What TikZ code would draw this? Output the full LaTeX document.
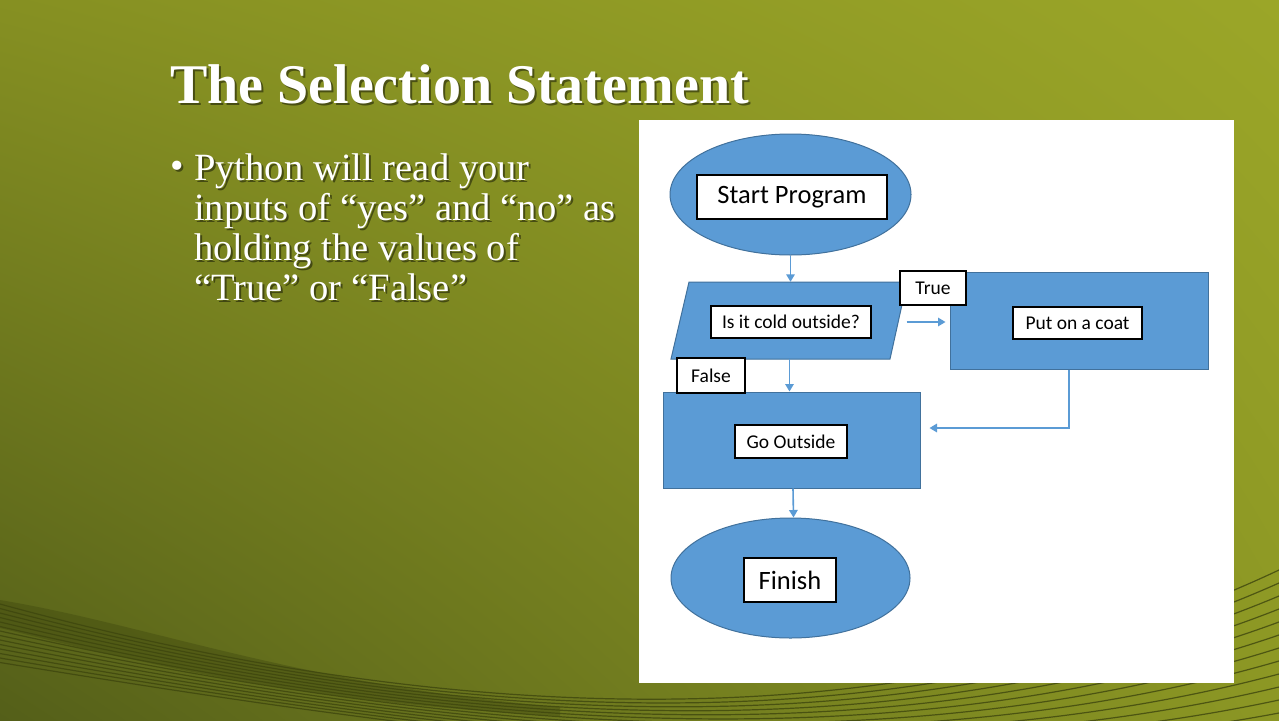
\documentclass[tikz,border=0pt]{standalone}
\usepackage{fontspec}
\setmainfont{Liberation Serif}
\newfontfamily\calibf{Carlito}
\usetikzlibrary{arrows.meta,shadings,shapes.geometric}
\definecolor{shapeblue}{HTML}{5B9BD5}
\definecolor{shapeedge}{HTML}{41719C}
\definecolor{swline}{HTML}{3E460E}
\definecolor{bgul}{RGB}{134,144,34}
\definecolor{bgur}{RGB}{155,166,40}
\definecolor{bgll}{RGB}{84,95,25}
\definecolor{bglr}{RGB}{140,151,36}
\begin{document}
\begin{tikzpicture}[x=1pt,y=-1pt,
  shapefill/.style={fill=shapeblue, draw=shapeedge, line width=1pt},
  ellbox/.style={shapefill, ellipse, inner sep=0pt},
  rectbox/.style={shapefill, rectangle, inner sep=0pt},
  lbl/.style={draw=black, fill=white, line width=1.4pt, inner sep=0pt, text=black, font=\calibf\fontsize{19.5}{22}\selectfont},
  biglbl/.style={lbl, font=\calibf\fontsize{26.5}{30}\selectfont},
  conn/.style={draw=shapeblue, line width=1.6pt, -{Triangle[width=8.5pt,length=7.5pt]}},
  swoosh/.style={draw=swline, line width=1.2pt, opacity=0.8},
  titletext/.style={anchor=base west, inner sep=0pt, text=white, font=\fontsize{56}{60}\bfseries\selectfont},
  bodytext/.style={anchor=base west, inner sep=0pt, text=white, font=\fontsize{38.6}{40}\selectfont},
  shadowtext/.style={text=black, opacity=0.45}
]
\useasboundingbox (0,0) rectangle (1279,720);
% background
\shade[upper left=bgul, upper right=bgur, lower left=bgll, lower right=bglr]
  (0,0) rectangle (1279,720);
% dark ribbon at bottom left
\fill[swline, opacity=0.4] (0,600) .. controls (150,625) and (300,685) .. (560,707)
   -- (560,716) .. controls (300,702) and (150,665) .. (0,628) -- cycle;
% swoosh lines
\foreach \i in {0,...,13}{
  \draw[swoosh] (0,604+\i*4.5) .. controls (350,700+\i*1.5) and (850,772+\i*2) .. (1279,570+\i*13);
}
% title and bullet text
\node[titletext, shadowtext] at (172,105) {The Selection Statement};
\node[titletext] (title) at (170,103) {The Selection Statement};
\foreach \t/\yy in {{Python will read your}/180, {inputs of “yes” and “no” as}/220, {holding the values of}/260, {“True” or “False”}/300}{
  \node[bodytext, shadowtext] at (196,\yy+2) {\t};
  \node[bodytext] at (194,\yy) {\t};
}
\node[bodytext, shadowtext] at (172,180) {•};
\node[bodytext] (bullet) at (170,178) {•};
% white panel
\fill[white] (639,120) rectangle (1234,683);
% flowchart shapes
\node[ellbox, minimum width=241pt, minimum height=121pt] (start) at (790.5,194.5) {};
\node[biglbl, minimum width=190pt, minimum height=44pt] (startl) at (792,197) {Start Program};
\draw[shapefill] (689,282) -- (907,282) -- (890,359) -- (671,359) -- cycle;
\node[inner sep=0pt, minimum width=218pt, minimum height=77pt] (dec) at (789.5,320.5) {};
\node[lbl, minimum width=160pt, minimum height=32pt] (decl) at (791,322) {Is it cold outside?};
\node[rectbox, minimum width=258pt, minimum height=97pt] (coat) at (1079,320.5) {};
\node[lbl, minimum width=129pt, minimum height=32pt] (coatl) at (1077.5,323) {Put on a coat};
\node[lbl, minimum width=66pt, minimum height=34pt] (truel) at (933,288) {True};
\node[rectbox, minimum width=257pt, minimum height=96pt] (go) at (791.5,440) {};
\node[lbl, minimum width=112pt, minimum height=33pt] (gol) at (791,441.5) {Go Outside};
\node[lbl, minimum width=68pt, minimum height=35pt] (falsel) at (711,375.5) {False};
\node[ellbox, minimum width=239pt, minimum height=120pt] (fin) at (790.5,578) {};
\node[biglbl, minimum width=92pt, minimum height=44pt] (finl) at (790,580) {Finish};
% connectors
\draw[conn] (start.south) -- (start.south |- dec.north);
\draw[conn] (dec.south) -- (dec.south |- go.north);
\draw[conn] ([xshift=8pt,yshift=-1.5pt]dec.east) -- ([xshift=-4pt,yshift=-1.5pt]coat.west);
\draw[conn] ([xshift=-10pt]coat.south) |- ([xshift=9pt,yshift=12pt]go.east);
\draw[conn] ([xshift=1.5pt]go.south) -- ([xshift=3pt]fin.north);
\end{tikzpicture}
\end{document}
